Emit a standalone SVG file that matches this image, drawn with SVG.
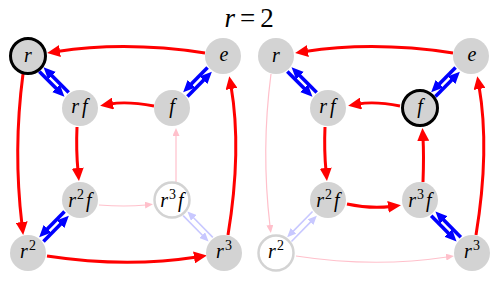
<svg xmlns="http://www.w3.org/2000/svg" width="500" height="294" viewBox="0 0 500 294">
<style>
.node{fill:#d3d3d3}
.hl{stroke:#000;stroke-width:3}
.hollow{fill:#fff;stroke:#d3d3d3;stroke-width:2.5}
.lbl{font-style:italic;font-size:20px;text-anchor:middle;fill:#000}
.sup{font-size:14px;font-style:normal}
.red{fill:none;stroke:#ff0000;stroke-width:3;marker-end:url(#ar)}
.pink{fill:none;stroke:#ffc0cb;stroke-width:1.2;marker-end:url(#ap)}
.blue{fill:none;stroke:#0000ff;stroke-width:3.6;marker-end:url(#ab)}
.lblue{fill:none;stroke:#c8c8ff;stroke-width:1.6;marker-end:url(#alb)}
.title{font-size:27px;fill:#000}
</style>
<defs>
<marker id="ar" markerUnits="userSpaceOnUse" viewBox="0 0 13 12" markerWidth="13" markerHeight="12" refX="3" refY="6" orient="auto"><path d="M0,0 L13,6 L0,12 z" fill="#ff0000"/></marker>
<marker id="ab" markerUnits="userSpaceOnUse" viewBox="0 0 12 11" markerWidth="12" markerHeight="11" refX="5" refY="5.5" orient="auto"><path d="M0,0 L12,5.5 L0,11 z" fill="#0000ff"/></marker>
<marker id="alb" markerUnits="userSpaceOnUse" viewBox="0 0 9 8" markerWidth="9" markerHeight="8" refX="2" refY="4" orient="auto"><path d="M0,0 L9,4 L0,8 z" fill="#c8c8ff"/></marker>
<marker id="ap" markerUnits="userSpaceOnUse" viewBox="0 0 8 7" markerWidth="8" markerHeight="7" refX="1" refY="3.5" orient="auto"><path d="M0,0 L8,3.5 L0,7 z" fill="#ffc0cb"/></marker>
</defs>
<g font-family="Liberation Serif, DejaVu Serif, serif">
<text class="title" x="249" y="27" text-anchor="middle"><tspan font-style="italic">r</tspan><tspan dx="5">=</tspan><tspan dx="5">2</tspan></text>

<g id="left">
<g id="connectors-left">
<path class="red" d="M205,53 Q126,41 57,51.5"/>
<path class="red" d="M154,106 Q127,101 110,104"/>
<path class="red" d="M23,74 Q13,150 22,225"/>
<path class="red" d="M77,127 Q76,150 78,171"/>
<path class="red" d="M47,256 Q126,268 197,257"/>
<path class="red" d="M228,235 Q242,150 231,86"/>
<path class="pink" d="M99,205 Q125,207 146,205"/>
<path class="pink" d="M176,182 L176,135"/>
<path class="blue" d="M39.31,71.55 L59.50,91.74"/>
<path class="blue" d="M68.69,92.45 L48.50,72.26"/>
<path class="blue" d="M207.56,67.46 L188.06,87.34"/>
<path class="blue" d="M187.44,96.54 L206.94,76.66"/>
<path class="blue" d="M43.45,241.54 L63.93,220.66"/>
<path class="blue" d="M64.55,211.46 L44.07,232.34"/>
<path class="lblue" d="M183.17,215.66 L203.65,236.54"/>
<path class="lblue" d="M212.83,237.34 L192.35,216.46"/>
</g>
<g id="L-r"><circle class="node hl" cx="28" cy="56" r="17.5"/><text class="lbl" x="28" y="61.5">r</text></g>
<g id="L-e"><circle class="node" cx="223" cy="56" r="18"/><text class="lbl" x="224" y="61">e</text></g>
<g id="L-rf"><circle class="node" cx="80" cy="108" r="18"/><text class="lbl" x="81" y="113" letter-spacing="3">rf</text></g>
<g id="L-f"><circle class="node" cx="172" cy="108" r="18"/><text class="lbl" x="172" y="113">f</text></g>
<g id="L-r2f"><circle class="node" cx="80" cy="200" r="18"/><text class="lbl" x="80" y="207">r<tspan class="sup" dy="-8" dx="1">2</tspan><tspan dy="8" dx="2">f</tspan></text></g>
<g id="L-r3f"><circle class="hollow" cx="172" cy="200" r="17.5"/><text class="lbl" x="172" y="207">r<tspan class="sup" dy="-8" dx="1">3</tspan><tspan dy="8" dx="2">f</tspan></text></g>
<g id="L-r2"><circle class="node" cx="28" cy="253" r="18"/><text class="lbl" x="28" y="258">r<tspan class="sup" dy="-8" dx="1">2</tspan></text></g>
<g id="L-r3"><circle class="node" cx="224" cy="253" r="18"/><text class="lbl" x="224" y="258">r<tspan class="sup" dy="-8" dx="1">3</tspan></text></g>
</g>

<g id="right" transform="translate(248,0)">
<g id="connectors-right">
<path class="red" d="M205,53 Q126,41 57,51.5"/>
<path class="red" d="M152,106 Q127,101 110,104"/>
<path class="red" d="M77,127 Q76,150 78,171"/>
<path class="red" d="M99,204 Q122,209 143,206.5"/>
<path class="red" d="M175,182 Q176,155 175,138"/>
<path class="red" d="M228,235 Q242,150 231,86"/>
<path class="pink" d="M23,74 Q13,150 22,226"/>
<path class="pink" d="M48,256 Q126,268 199,257"/>
<path class="blue" d="M39.31,71.55 L59.50,91.74"/>
<path class="blue" d="M68.69,92.45 L48.50,72.26"/>
<path class="blue" d="M207.56,67.46 L188.06,87.34"/>
<path class="blue" d="M187.44,96.54 L206.94,76.66"/>
<path class="lblue" d="M43.45,241.54 L63.93,220.66"/>
<path class="lblue" d="M64.55,211.46 L44.07,232.34"/>
<path class="blue" d="M183.17,215.66 L203.65,236.54"/>
<path class="blue" d="M212.83,237.34 L192.35,216.46"/>
</g>
<g id="R-r"><circle class="node" cx="28" cy="56" r="18"/><text class="lbl" x="28" y="61.5">r</text></g>
<g id="R-e"><circle class="node" cx="223" cy="56" r="18"/><text class="lbl" x="224" y="61">e</text></g>
<g id="R-rf"><circle class="node" cx="80" cy="108" r="18"/><text class="lbl" x="81" y="113" letter-spacing="3">rf</text></g>
<g id="R-f"><circle class="node hl" cx="172" cy="108" r="17.5"/><text class="lbl" x="172" y="113">f</text></g>
<g id="R-r2f"><circle class="node" cx="80" cy="200" r="18"/><text class="lbl" x="80" y="207">r<tspan class="sup" dy="-8" dx="1">2</tspan><tspan dy="8" dx="2">f</tspan></text></g>
<g id="R-r3f"><circle class="node" cx="172" cy="200" r="18"/><text class="lbl" x="172" y="207">r<tspan class="sup" dy="-8" dx="1">3</tspan><tspan dy="8" dx="2">f</tspan></text></g>
<g id="R-r2"><circle class="hollow" cx="28" cy="253" r="17.5"/><text class="lbl" x="28" y="258">r<tspan class="sup" dy="-8" dx="1">2</tspan></text></g>
<g id="R-r3"><circle class="node" cx="224" cy="253" r="18"/><text class="lbl" x="224" y="258">r<tspan class="sup" dy="-8" dx="1">3</tspan></text></g>
</g>
</g>
</svg>
